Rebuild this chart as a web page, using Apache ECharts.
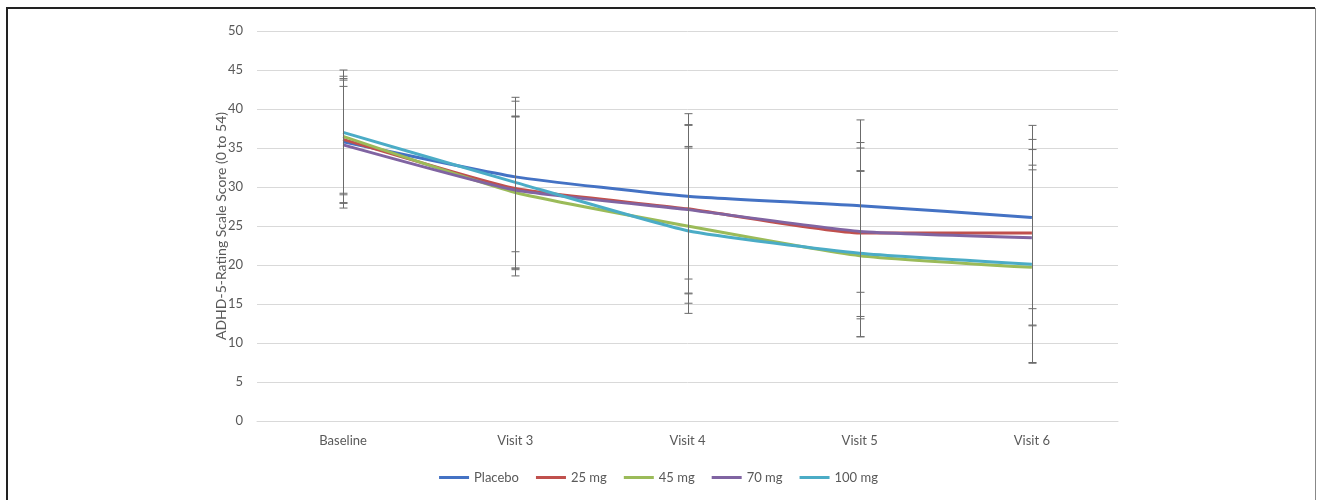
<!DOCTYPE html>
<html>
<head>
<meta charset="utf-8">
<script src="https://cdn.jsdelivr.net/npm/echarts@6/dist/echarts.min.js"></script>
<style>
html,body{margin:0;padding:0;background:#fff;}
#chart{width:1317px;height:500px;}
</style>
</head>
<body>
<div id="chart"></div>
<script>
const categories = ['Baseline', 'Visit 3', 'Visit 4', 'Visit 5', 'Visit 6'];
const yTicks = [0, 5, 10, 15, 20, 25, 30, 35, 40, 45, 50];

const seriesNames = ['Placebo', '25 mg', '45 mg', '70 mg', '100 mg'];

const placebo = [35.8, 31.3, 28.8, 27.6, 26.1];
const mg25 = [36.1, 29.8, 27.2, 24.1, 24.1];
const mg45 = [36.5, 29.3, 25.0, 21.2, 19.7];
const mg70 = [35.4, 29.6, 27.1, 24.3, 23.5];
const mg100 = [37.0, 30.6, 24.4, 21.5, 20.1];

const placeboHi = [43.7, 41.0, 39.4, 38.6, 37.9];
const placeboLo = [27.9, 21.7, 18.2, 16.5, 14.4];
const mg25Hi = [44.2, 39.1, 38.0, 35.0, 36.1];
const mg25Lo = [28.0, 19.4, 16.4, 13.1, 12.2];
const mg45Hi = [43.9, 39.0, 35.2, 32.0, 32.2];
const mg45Lo = [29.2, 18.6, 15.1, 10.8, 7.5];
const mg70Hi = [42.9, 39.0, 37.9, 35.7, 34.8];
const mg70Lo = [27.3, 19.6, 16.3, 13.4, 12.3];
const mg100Hi = [45.0, 41.5, 35.0, 32.1, 32.8];
const mg100Lo = [29.0, 19.6, 13.8, 10.8, 7.4];

const colors = ['#4472C4', '#C0504D', '#9BBB59', '#8064A2', '#4BACC6'];

const means = [placebo, mg25, mg45, mg70, mg100];
const highs = [placeboHi, mg25Hi, mg45Hi, mg70Hi, mg100Hi];
const lows = [placeboLo, mg25Lo, mg45Lo, mg70Lo, mg100Lo];

const chart = echarts.init(document.getElementById('chart'), null, {renderer: 'canvas'});

const textColor = '#595959';
const fontFamily = 'Lato, "Open Sans", sans-serif';

const lineSeries = seriesNames.map((name, i) => ({
  name: name,
  type: 'line',
  data: means[i],
  symbol: 'none',
  smooth: 0.15,
  lineStyle: {color: colors[i], width: 3},
  itemStyle: {color: colors[i]},
  z: 2 + i
}));

const errorSeries = seriesNames.map((name, i) => ({
  name: name + ' error',
  type: 'custom',
  data: categories.map((c, k) => [k, lows[i][k], highs[i][k]]),
  z: 10,
  silent: true,
  renderItem: function (params, api) {
    const x = api.value(0);
    const lo = api.coord([x, api.value(1)]);
    const hi = api.coord([x, api.value(2)]);
    const hw = 4;
    const st = {stroke: '#6b6b6b', lineWidth: 1};
    const cx = Math.round(hi[0]) + 0.5;
    return {
      type: 'group',
      children: [
        {type: 'line', shape: {x1: cx, y1: hi[1], x2: cx, y2: lo[1]}, style: st},
        {type: 'line', shape: {x1: cx - hw, y1: hi[1], x2: cx + hw, y2: hi[1]}, style: st},
        {type: 'line', shape: {x1: cx - hw, y1: lo[1], x2: cx + hw, y2: lo[1]}, style: st}
      ]
    };
  }
}));

chart.setOption({
  animation: false,
  backgroundColor: '#ffffff',
  textStyle: {fontFamily: fontFamily},
  grid: {left: 257, right: 199, top: 31, bottom: 79, containLabel: false},
  legend: {
    data: seriesNames,
    top: 466,
    left: 'center',
    icon: 'rect',
    itemWidth: 30,
    itemHeight: 3,
    itemGap: 17,
    textStyle: {color: textColor, fontSize: 13, fontFamily: fontFamily}
  },
  xAxis: {
    type: 'category',
    data: categories,
    boundaryGap: true,
    axisLine: {show: true, lineStyle: {color: '#d9d9d9', width: 1}},
    axisTick: {show: false},
    axisLabel: {color: textColor, fontSize: 13, margin: 13, fontFamily: fontFamily},
    splitLine: {show: false}
  },
  yAxis: {
    type: 'value',
    min: yTicks[0],
    max: yTicks[yTicks.length - 1],
    interval: 5,
    name: 'ADHD-5-Rating Scale Score (0 to 54)',
    nameLocation: 'middle',
    nameGap: 29,
    nameMoveOverlap: false,
    nameTextStyle: {color: textColor, fontSize: 14, fontFamily: fontFamily},
    axisLine: {show: false},
    axisTick: {show: false},
    axisLabel: {color: textColor, fontSize: 13, margin: 14, fontFamily: fontFamily},
    splitLine: {show: true, lineStyle: {color: '#d9d9d9', width: 1}}
  },
  graphic: [
    {type: 'line', shape: {x1: 6, y1: 8, x2: 1315, y2: 8}, style: {stroke: '#222', lineWidth: 2}, z: 100},
    {type: 'line', shape: {x1: 7, y1: 8, x2: 7, y2: 500}, style: {stroke: '#222', lineWidth: 2}, z: 100},
    {type: 'line', shape: {x1: 1315.5, y1: 8, x2: 1315.5, y2: 500}, style: {stroke: '#888', lineWidth: 1}, z: 100}
  ],
  series: lineSeries.concat(errorSeries)
});
</script>
</body>
</html>
